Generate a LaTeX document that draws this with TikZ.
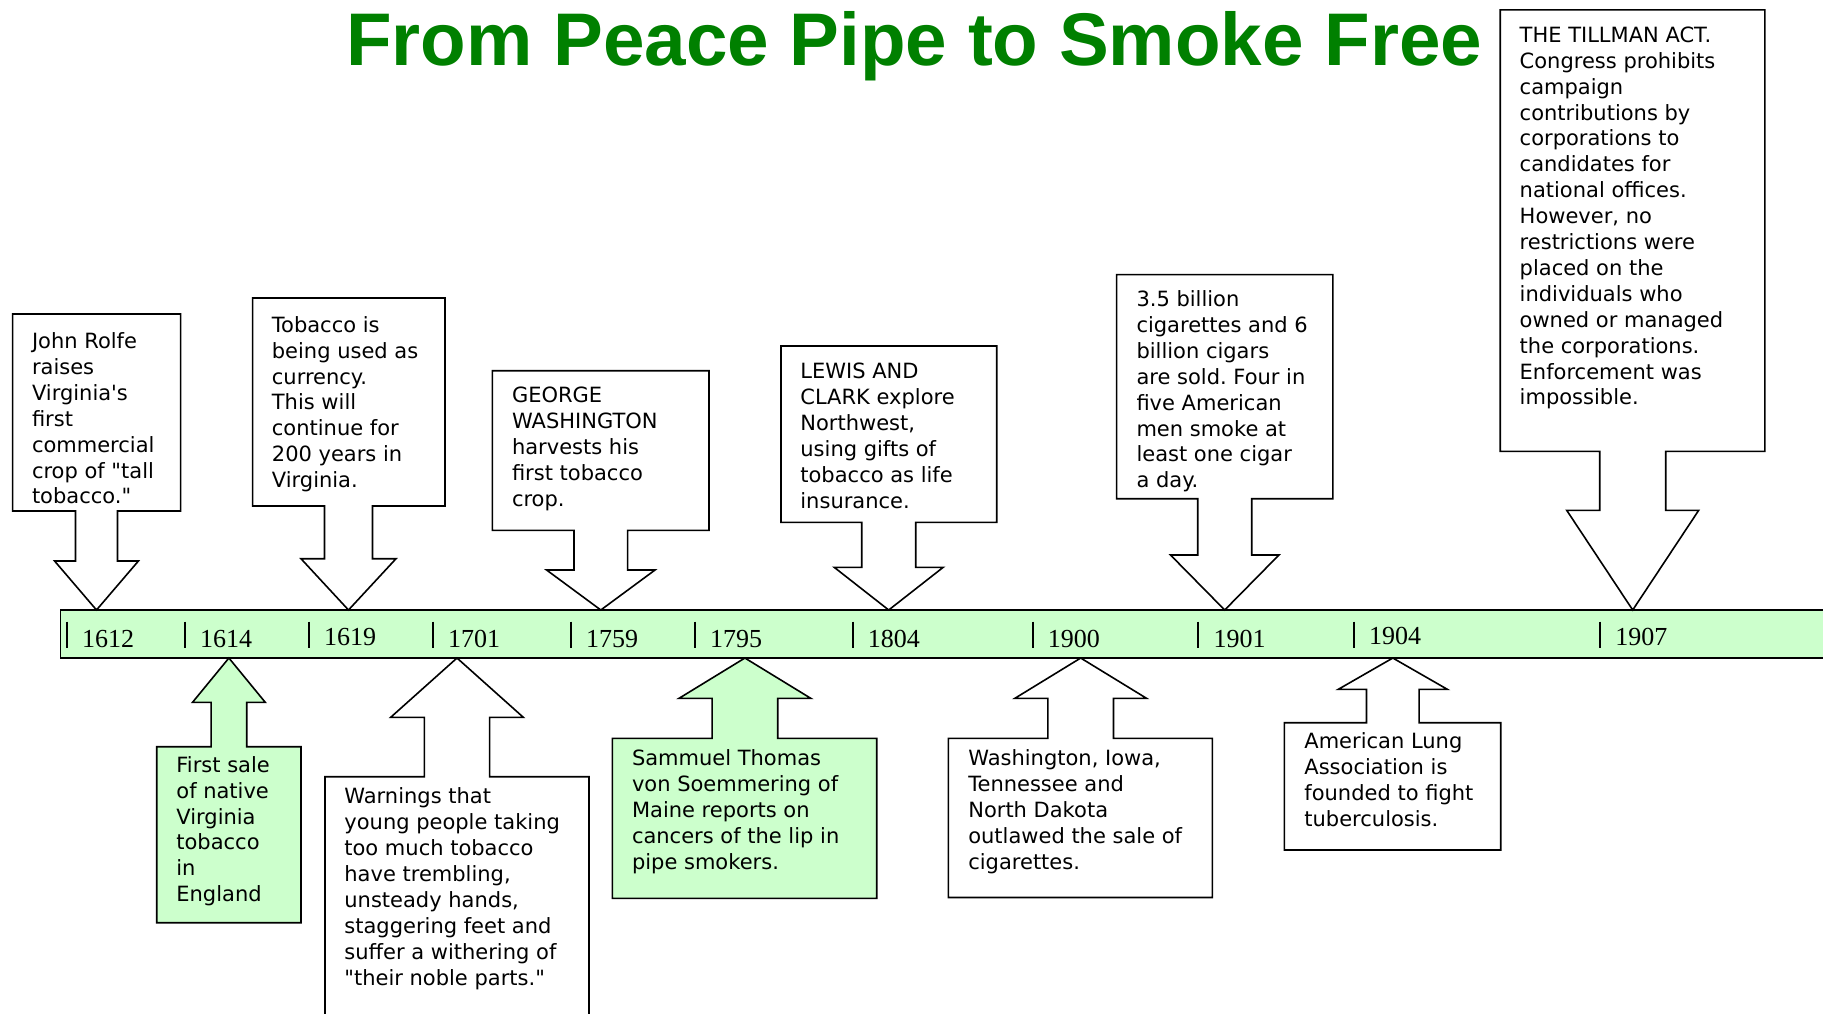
\documentclass[tikz,border=0pt]{standalone}
\usepackage{fontspec}
\newfontfamily\bodyfont[Ligatures=TeXOff]{DejaVu Sans}
\newfontfamily\yearfont{Liberation Serif}
\newfontfamily\titlefont{Liberation Sans}
\definecolor{titlegreen}{RGB}{0,128,0}
\definecolor{barfill}{RGB}{204,255,204}
\frenchspacing
% down callout: #1 fill, #2 L, #3 T, #4 R, #5 B, #6 tip x, #7 stem half, #8 head y, #9 head half
\newcommand{\calloutdown}[9]{%
  \draw[callout, fill=#1] (#2,#3) -- (#4,#3) -- (#4,#5) -- ({#6+#7},#5) -- ({#6+#7},#8)
    -- ({#6+#9},#8) -- (#6,610) -- ({#6-#9},#8) -- ({#6-#7},#8) -- ({#6-#7},#5) -- (#2,#5) -- cycle;}
% up callout
\newcommand{\calloutup}[9]{%
  \draw[callout, fill=#1] (#2,#3) -- ({#6-#7},#3) -- ({#6-#7},#8) -- ({#6-#9},#8) -- (#6,658)
    -- ({#6+#9},#8) -- ({#6+#7},#8) -- ({#6+#7},#3) -- (#4,#3) -- (#4,#5) -- (#2,#5) -- cycle;}
\begin{document}
\begin{tikzpicture}[x=1pt,y=-1pt,
  callout/.style={draw=black, line width=1.6pt},
  txt/.style={anchor=north west, inner sep=0pt, align=left,
    font={\bodyfont\frenchspacing\fontsize{21}{25.9}\selectfont}},
  year/.style={anchor=base west, inner sep=0pt,
    font={\yearfont\fontsize{26}{30}\selectfont}},
  tick/.style={draw=black, line width=2pt}]
\useasboundingbox (0,0) rectangle (1823,1013);
\clip (0,0) rectangle (1823,1013);
\fill[white] (0,0) rectangle (1823,1013);

% title
\node[anchor=base west, inner sep=0pt, text=titlegreen,
  font={\titlefont\bfseries\fontsize{74.6}{90}\selectfont}] (title) at (346,65.7) {From Peace Pipe to Smoke Free};

% timeline bar
\draw[fill=barfill, draw=black, line width=1.6pt] (60.5,610) rectangle (1900,658);
\coordinate (barend) at (1900,658);

% ticks and years
\foreach \tx/\yr/\bl in {67/1612/647.7, 185/1614/647.7, 309/1619/645, 433/1701/647.7,
    571/1759/647, 695/1795/647, 852.7/1804/647, 1032.7/1900/647.7,
    1198.3/1901/647.7, 1354/1904/644.3, 1600.2/1907/645}{
  \draw[tick] (\tx,621.7) -- (\tx,647.5);
  \node[year] (y\yr) at ({\tx+15},\bl) {\yr};
}

% callouts above the bar
\calloutdown{white}{12.6}{314}{180.6}{511}{96.5}{21}{561}{41.9}
\calloutdown{white}{252.6}{298}{445}{506}{348.5}{24}{558.7}{47.5}
\calloutdown{white}{492.3}{370.7}{709}{530.3}{600.8}{26.8}{570}{54.2}
\calloutdown{white}{781}{346}{996.7}{522.3}{888.7}{27}{567.3}{54.5}
\calloutdown{white}{1116.6}{274.6}{1332.8}{498.7}{1224.7}{27}{555}{54.2}
\calloutdown{white}{1500.2}{9.8}{1764.8}{451.3}{1632.7}{33}{510.3}{66}

% callouts below the bar
\calloutup{barfill}{156.7}{746.7}{301}{922.7}{228.9}{17.85}{702.3}{36.35}
\calloutup{white}{325}{776.7}{589}{1040}{457}{32.65}{717.3}{66.3}
\calloutup{barfill}{612.3}{738.3}{876.7}{898.3}{744.9}{32.8}{698.3}{65.85}
\calloutup{white}{948.3}{738.3}{1212.3}{897.5}{1080.7}{32.8}{698.3}{65.8}
\calloutup{white}{1284.3}{722.7}{1500.7}{850}{1392.8}{26.3}{689.3}{54.5}

% texts
\node[txt] (t1) at (31.8,331.3) {\rule{0pt}{17pt}John Rolfe\\raises\\Virginia's\\first\\commercial\\crop of "tall\\tobacco."};
\node[txt] (t2) at (271.7,315) {\rule{0pt}{17pt}Tobacco is\\being used as\\currency.\\This will\\continue for\\200 years in\\Virginia.};
\node[txt] (t3) at (511.8,385.6) {\rule{0pt}{17pt}GEORGE\\WASHINGTON\\harvests his\\first tobacco\\crop.};
\node[txt] (t4) at (800.2,361.6) {\rule{0pt}{17pt}LEWIS AND\\CLARK explore\\Northwest,\\using gifts of\\tobacco as life\\insurance.};
\node[txt] (t5) at (1136.3,289.3) {\rule{0pt}{17pt}3.5 billion\\cigarettes and 6\\billion cigars\\are sold. Four in\\five American\\men smoke at\\least one cigar\\a day.};
\node[txt] (t6) at (1519.5,25.1) {\rule{0pt}{17pt}THE TILLMAN ACT.\\Congress prohibits\\campaign\\contributions by\\corporations to\\candidates for\\national offices.\\However, no\\restrictions were\\placed on the\\individuals who\\owned or managed\\the corporations.\\Enforcement was\\impossible.};
\node[txt] (t7) at (176.2,755) {\rule{0pt}{17pt}First sale\\of native\\Virginia\\tobacco\\in\\England};
\node[txt] (t8) at (344.2,786.6) {\rule{0pt}{17pt}Warnings that\\young people taking\\too much tobacco\\have trembling,\\unsteady hands,\\staggering feet and\\suffer a withering of\\"their noble parts."};
\node[txt] (t9) at (631.8,748.3) {\rule{0pt}{17pt}Sammuel Thomas\\von Soemmering of\\Maine reports on\\cancers of the lip in\\pipe smokers.};
\node[txt] (t10) at (968.1,748.3) {\rule{0pt}{17pt}Washington, Iowa,\\Tennessee and\\North Dakota\\outlawed the sale of\\cigarettes.};
\node[txt] (t11) at (1304.2,731.6) {\rule{0pt}{17pt}American Lung\\Association is\\founded to fight\\tuberculosis.};
\end{tikzpicture}
\end{document}
